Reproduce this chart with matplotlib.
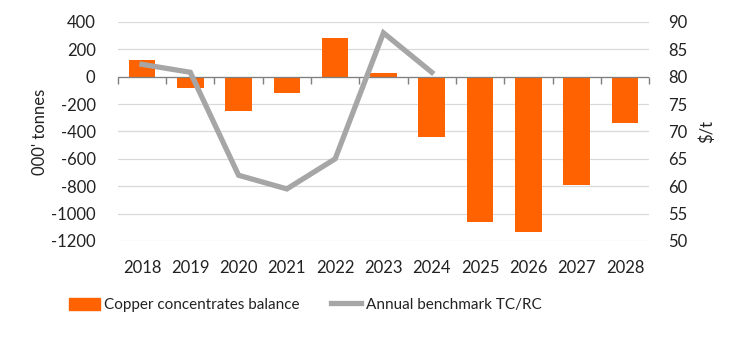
import numpy as np
import matplotlib.pyplot as plt
from matplotlib.patches import Patch
from matplotlib.lines import Line2D

plt.rcParams['font.family'] = ['Lato', 'DejaVu Sans']
plt.rcParams['axes.unicode_minus'] = False

years = ['2018', '2019', '2020', '2021', '2022', '2023', '2024', '2025', '2026', '2027', '2028']
balance = [120, -80, -250, -120, 280, 30, -440, -1060, -1135, -790, -335]
tcrc_years = ['2018', '2019', '2020', '2021', '2022', '2023', '2024']
tcrc = [82.25, 80.8, 62.0, 59.5, 65.0, 88.0, 80.8]

orange = '#FF6200'
grey = '#A6A6A6'
txt = '#222222'

fig = plt.figure(figsize=(7.41, 3.37), dpi=100)
ax = fig.add_axes([0.159, 0.285, 0.717, 0.65])
ax2 = ax.twinx()

x = np.arange(len(years))
ax.bar(x, balance, width=0.55, color=orange, zorder=2)
ax.set_ylim(-1200, 400)
ax.set_yticks(np.arange(-1200, 401, 200))
ax.set_xlim(-0.5, len(years) - 0.5)
ax.set_xticks(x)
ax.set_xticklabels(years)
ax.grid(axis='y', color='#D9D9D9', lw=0.9, zorder=0)
ax.set_axisbelow(True)
ax.axhline(0, color='#7F7F7F', lw=0.9, zorder=3)
ax.tick_params(axis='y', length=0, labelsize=12, colors=txt, pad=16)
ax.tick_params(axis='x', length=0, labelsize=12, colors=txt, pad=14)
ax.set_ylabel("000' tonnes", fontsize=12, color=txt, labelpad=2)

# small tick marks on the zero line between categories
zero_axis = ax.secondary_xaxis((0 - (-1200)) / 1600)
zero_axis.set_alignment('bottom')
zero_axis.set_xticks(np.arange(-0.5, len(years), 1))
zero_axis.set_xticklabels([])
zero_axis.tick_params(axis='x', direction='out', length=5, color='#7F7F7F', width=1.0)
for s in zero_axis.spines.values():
    s.set_visible(False)

ax2.plot([years.index(y) for y in tcrc_years], tcrc, color=grey, lw=3.8,
         solid_joinstyle='miter', zorder=4)
ax2.set_ylim(50, 90)
ax2.set_yticks(np.arange(50, 91, 5))
ax2.tick_params(axis='y', length=0, labelsize=12, colors=txt, pad=14)
ax2.set_ylabel('$/t', fontsize=12, color=txt, labelpad=8)

for a in (ax, ax2):
    for s in a.spines.values():
        s.set_visible(False)

handles = [Patch(color=orange), Line2D([], [], color=grey, lw=3.8)]
labels = ['Copper concentrates balance', 'Annual benchmark TC/RC']
fig.legend(handles, labels, loc='center left', bbox_to_anchor=(0.075, 0.095),
           ncol=2, frameon=False, fontsize=11, handlelength=2.0,
           handleheight=0.8, columnspacing=2.0, handletextpad=0.3,
           labelcolor=txt)

fig.savefig('out.png', dpi=100)
